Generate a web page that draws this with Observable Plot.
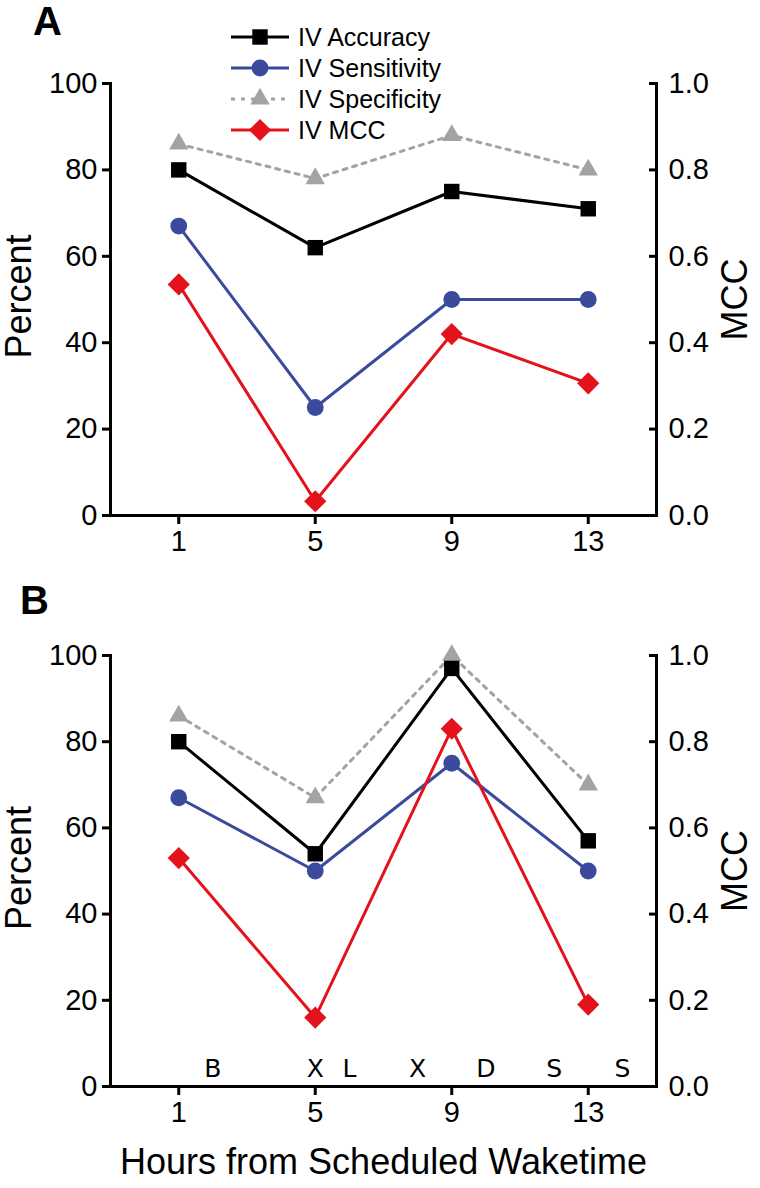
<!DOCTYPE html>
<html><head><meta charset="utf-8">
<script src="https://cdn.jsdelivr.net/npm/d3@7"></script>
<script src="https://cdn.jsdelivr.net/npm/@observablehq/plot@0.6"></script>
<style>
body{margin:0;background:#fff;}
#wrap{position:relative;width:760px;height:1188px;font-family:"Liberation Sans",Arial,sans-serif;}
#wrap > svg{display:block}
#legend{position:absolute;left:0;top:0;}
</style></head><body><div id="wrap"></div>
<script>
// ---- data ----
const hours = [1, 5, 9, 13];
const seriesNames = ["IV Accuracy", "IV Sensitivity", "IV Specificity", "IV MCC"];
const seriesColors = ["#000000", "#3b4a9c", "#a3a3a3", "#e3121b"];
const seriesSymbols = ["square", "circle", "triangle", "diamond2"];

// Panel A
const accA  = [80, 62, 75, 71];
const sensA = [67, 25, 50, 50];
const specA = [86, 78, 88, 80];
const mccA  = [0.535, 0.033, 0.42, 0.306];
// Panel B
const accB  = [80, 54, 97, 57];
const sensB = [67, 50, 75, 50];
const specB = [86, 67, 100, 70];
const mccB  = [0.53, 0.16, 0.83, 0.19];

// letters in panel B
const letters = ["B", "X", "L", "X", "D", "S", "S"];
const letterHours = [2, 5, 6, 8, 10, 12, 14];
const letterLevel = 4;

const percentTicks = [0, 20, 40, 60, 80, 100];
const xDomain = [-1, 15];
const font = '"Liberation Sans", Arial, sans-serif';

function rowsOf(acc, sens, spec, mcc) {
  const out = [];
  const vals = [acc, sens, spec, mcc.map(v => v * 100)]; // MCC (0–1) shares the 0–100 axis
  seriesNames.forEach((s, i) => hours.forEach((h, j) => out.push({hour: h, series: s, idx: i, pct: vals[i][j]})));
  return out;
}

const styleOf = [
  {stroke: seriesColors[0], dash: null, r: 8.7},
  {stroke: seriesColors[1], dash: null, r: 8.4},
  {stroke: seriesColors[2], dash: "4,6", r: 7.2},
  {stroke: seriesColors[3], dash: null, r: 10}
];
const drawOrder = [2, 0, 1, 3];

function panel({rows, height, marginTop, marginBottom, panelLabel, labelDx, labelDy, extra = []}) {
  const marks = [
    Plot.frame({anchor: "left", strokeWidth: 3}),
    Plot.frame({anchor: "right", strokeWidth: 3}),
    Plot.frame({anchor: "bottom", strokeWidth: 3}),
    Plot.axisY({anchor: "left", ticks: percentTicks, tickSize: 8, tickPadding: 5, strokeWidth: 3, fontSize: 29, label: null}),
    Plot.axisY({anchor: "right", ticks: percentTicks, tickFormat: d => (d / 100).toFixed(1), tickSize: -8, tickPadding: 20, strokeWidth: 3, fontSize: 29, label: null}),
    Plot.axisX({ticks: hours, tickSize: 9, tickPadding: 6, strokeWidth: 3, fontSize: 29, label: null}),
    Plot.text(["Percent"], {frameAnchor: "left", dx: -91, dy: -3, rotate: -90, fontSize: 36, textAnchor: "middle", lineAnchor: "middle"}),
    Plot.text(["MCC"], {frameAnchor: "right", dx: 79, rotate: -90, fontSize: 36, textAnchor: "middle", lineAnchor: "middle"}),
    Plot.text([panelLabel], {frameAnchor: "top-left", dx: labelDx, dy: labelDy, fontSize: 40, fontWeight: "bold", textAnchor: "middle", lineAnchor: "middle"})
  ];
  for (const i of drawOrder) {
    const d = rows.filter(r => r.idx === i);
    const st = styleOf[i];
    marks.push(Plot.line(d, {x: "hour", y: "pct", stroke: st.stroke, strokeWidth: 3, strokeDasharray: st.dash}));
    marks.push(Plot.dot(d, {x: "hour", y: "pct", symbol: () => seriesSymbols[i], fill: st.stroke, stroke: "none", r: st.r}));
  }
  marks.push(...extra);
  return Plot.plot({
    width: 760, height, marginTop, marginBottom, marginLeft: 110, marginRight: 104,
    x: {domain: xDomain},
    y: {domain: [0, 100]},
    symbol: {type: "identity"},
    style: {fontFamily: font, background: "white", overflow: "visible", color: "black"},
    marks
  });
}

const wrap = document.getElementById("wrap");

const plotA = panel({rows: rowsOf(accA, sensA, specA, mccA), height: 590, marginTop: 83, marginBottom: 75,
  panelLabel: "A", labelDx: -63, labelDy: -61});
wrap.appendChild(plotA);

const letterData = letters.map((t, i) => ({t, hour: letterHours[i], level: letterLevel}));
const plotB = panel({rows: rowsOf(accB, sensB, specB, mccB), height: 598, marginTop: 65, marginBottom: 102,
  panelLabel: "B", labelDx: -76, labelDy: -54,
  extra: [
    Plot.text(letterData, {x: "hour", y: "level", text: "t", fontSize: 25, fontFamily: '"DejaVu Sans", sans-serif'}),
    Plot.text(["Hours from Scheduled Waketime"], {frameAnchor: "bottom", dy: 76, fontSize: 36, textAnchor: "middle", lineAnchor: "middle"})
  ]});
wrap.appendChild(plotB);

// ---- legend (overlay at top of panel A) ----
const leg = d3.select(wrap).append("svg").attr("id", "legend").attr("width", 760).attr("height", 160)
  .style("font-family", font);
const rowY = [37, 68, 99, 130];
const symMap = {square: d3.symbolSquare, circle: d3.symbolCircle, triangle: d3.symbolTriangle, diamond2: d3.symbolDiamond2};
seriesNames.forEach((name, i) => {
  const g = leg.append("g").attr("transform", `translate(0,${rowY[i]})`);
  const st = styleOf[i];
  g.append("line").attr("x1", 231).attr("x2", 289).attr("y1", 0).attr("y2", 0)
    .attr("stroke", st.stroke).attr("stroke-width", 3).attr("stroke-dasharray", st.dash);
  g.append("path").attr("transform", "translate(260,0)")
    .attr("d", d3.symbol(symMap[seriesSymbols[i]], Math.PI * st.r * st.r)())
    .attr("fill", st.stroke);
  g.append("text").attr("x", 298).attr("y", 0).attr("dy", "0.35em").attr("font-size", 25).text(name);
});
</script></body></html>
